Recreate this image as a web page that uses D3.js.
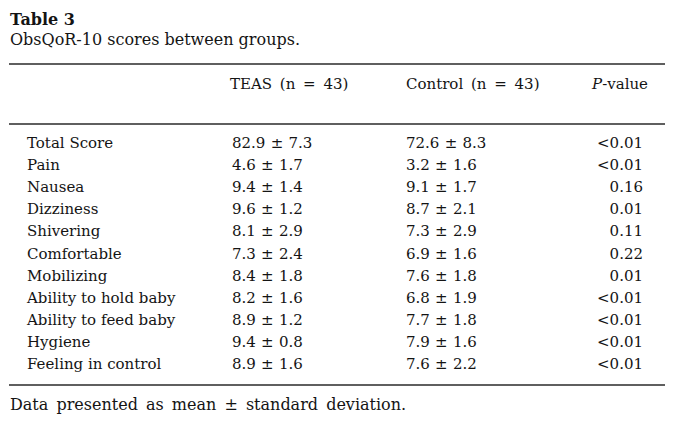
<!DOCTYPE html>
<html>
<head>
<meta charset="utf-8">
<script src="https://cdn.jsdelivr.net/npm/d3@7"></script>
<style>
  html, body { margin: 0; padding: 0; background: #fff; }
  svg { display: block; }
  text { font-family: "DejaVu Serif", "Liberation Serif", serif; fill: #141414; }
</style>
</head>
<body>
<svg id="chart" width="698" height="445"></svg>
<script>
// ---- data ----
const tableTitle = "Table 3";
const tableSubtitle = "ObsQoR-10 scores between groups.";
const footnote = "Data presented as mean \u00b1 standard deviation.";
const headers = ["TEAS (n = 43)", "Control (n = 43)", "P-value"];
const categories = ["Total Score", "Pain", "Nausea", "Dizziness", "Shivering", "Comfortable",
  "Mobilizing", "Ability to hold baby", "Ability to feed baby", "Hygiene", "Feeling in control"];
const teasMean = [82.9, 4.6, 9.4, 9.6, 8.1, 7.3, 8.4, 8.2, 8.9, 9.4, 8.9];
const teasSD = [7.3, 1.7, 1.4, 1.2, 2.9, 2.4, 1.8, 1.6, 1.2, 0.8, 1.6];
const controlMean = [72.6, 3.2, 9.1, 8.7, 7.3, 6.9, 7.6, 6.8, 7.7, 7.9, 7.6];
const controlSD = [8.3, 1.6, 1.7, 2.1, 2.9, 1.6, 1.8, 1.9, 1.8, 1.6, 2.2];
const pValues = ["<0.01", "<0.01", "0.16", "0.01", "0.11", "0.22", "0.01", "<0.01", "<0.01", "<0.01", "<0.01"];

// ---- layout ----
const svg = d3.select("#chart");
const fs = 15, fsCap = 16;
const ruleX0 = 9, ruleX1 = 665;
const colLabel = 27, colTeas = 232, colCtrl = 406, colP = 643;

const y = d3.scaleLinear().domain([0, categories.length - 1]).range([148, 369]);
const fmt = d3.format(".1f");

svg.append("text").attr("x", 10).attr("y", 25)
  .attr("font-size", fsCap).attr("font-weight", "bold").text(tableTitle);
svg.append("text").attr("x", 10).attr("y", 44.5)
  .attr("font-size", fsCap).text(tableSubtitle);

const rule = (yy) => svg.append("line")
  .attr("x1", ruleX0).attr("x2", ruleX1).attr("y1", yy).attr("y2", yy)
  .attr("stroke", "#2a2a2a").attr("stroke-width", 1.5);
rule(64); rule(124); rule(385);

// headers
svg.append("text").attr("x", colTeas - 2).attr("y", 89).attr("font-size", fs)
  .attr("word-spacing", 3).text(headers[0]);
svg.append("text").attr("x", colCtrl).attr("y", 89).attr("font-size", fs)
  .attr("word-spacing", 3).text(headers[1]);
const ph = svg.append("text").attr("x", colP + 5).attr("y", 89).attr("font-size", fs).attr("text-anchor", "end");
ph.append("tspan").attr("font-style", "italic").text(headers[2].slice(0, 1));
ph.append("tspan").text(headers[2].slice(1));

// rows
const rows = svg.append("g").selectAll("g").data(categories).join("g")
  .attr("transform", (d, i) => `translate(0,${y(i)})`);
rows.append("text").attr("x", colLabel).attr("font-size", fs).text(d => d);
rows.append("text").attr("x", colTeas).attr("font-size", fs).attr("word-spacing", 0.5)
  .text((d, i) => `${fmt(teasMean[i])} \u00b1 ${fmt(teasSD[i])}`);
rows.append("text").attr("x", colCtrl).attr("font-size", fs).attr("word-spacing", 0.5)
  .text((d, i) => `${fmt(controlMean[i])} \u00b1 ${fmt(controlSD[i])}`);
rows.append("text").attr("x", colP).attr("font-size", fs).attr("text-anchor", "end")
  .text((d, i) => pValues[i]);

svg.append("text").attr("x", 10).attr("y", 410).attr("font-size", fsCap)
  .attr("word-spacing", 3).text(footnote);
</script>
</body>
</html>
